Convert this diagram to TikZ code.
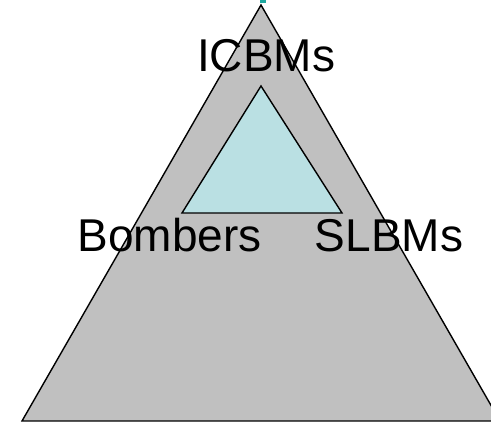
\documentclass[tikz,border=0pt]{standalone}
\usepackage{fontspec}
\setmainfont{Liberation Sans}
\definecolor{outergray}{HTML}{C0C0C0}
\definecolor{innerblue}{HTML}{BAE0E3}
\definecolor{markteal}{HTML}{1FA8A0}
\begin{document}
\begin{tikzpicture}[x=1pt,y=-1pt,
  tri/.style={draw=black,line width=1.4pt,line join=miter},
  lbl/.style={font=\fontsize{46}{46}\selectfont,anchor=base,inner sep=0pt}]
\clip (0,0) rectangle (491,422);
\useasboundingbox (0,0) rectangle (491,422);
% outer triangle
\coordinate (oa) at (261,5);
\coordinate (ol) at (22,421);
\coordinate (or) at (500,421);
\filldraw[tri,fill=outergray] (oa) -- (ol) -- (or) -- cycle;
% inner triangle
\coordinate (ia) at (261,86);
\coordinate (il) at (182,213);
\coordinate (ir) at (342,213);
\filldraw[tri,fill=innerblue] (ia) -- (il) -- (ir) -- cycle;
% small mark above the apex
\fill[markteal] (260,0) rectangle (266,3);
% labels
\node[lbl] (icbm) at (266,72) {ICBMs};
\node[lbl] (bomb) at (169.5,252) {Bombers};
\node[lbl] (slbm) at (389,252) {SLBMs};
\end{tikzpicture}
\end{document}
